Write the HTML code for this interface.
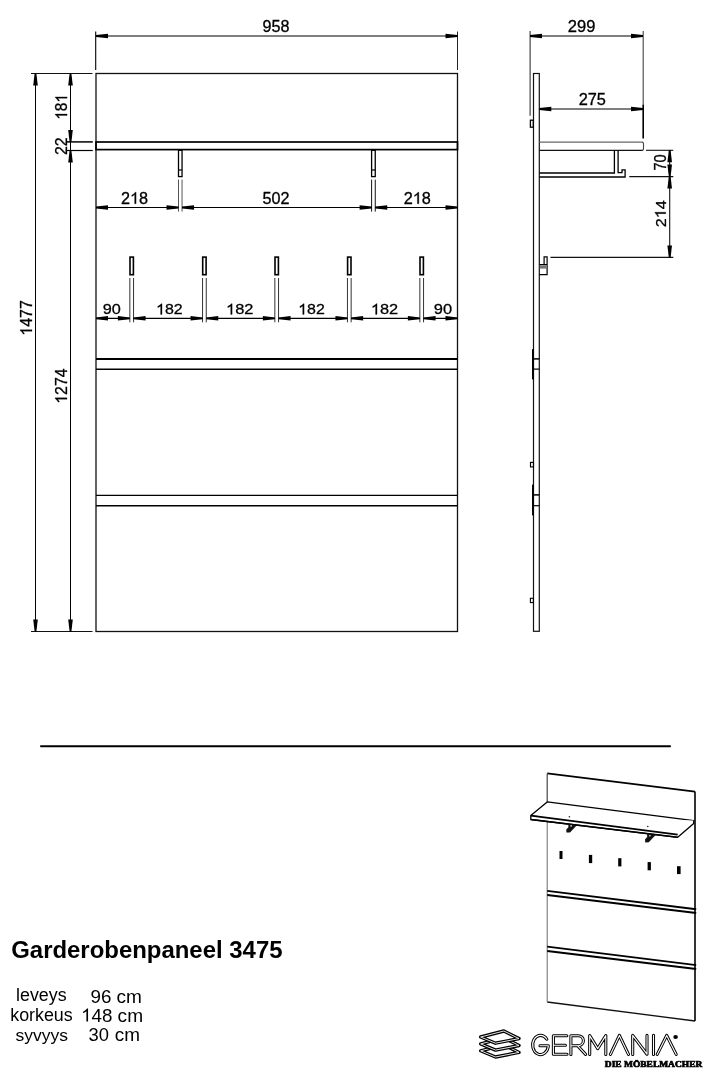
<!DOCTYPE html>
<html><head><meta charset="utf-8"><title>Garderobenpaneel 3475</title>
<style>
html,body{margin:0;padding:0;background:#fff;}
body{width:709px;height:1073px;overflow:hidden;}
svg{display:block;font-family:"Liberation Sans",sans-serif;filter:grayscale(1);}
</style></head><body>
<svg width="709" height="1073" viewBox="0 0 709 1073">
<rect width="709" height="1073" fill="#fff"/>
<rect x="96" y="73.5" width="361.5" height="558.0" fill="none" stroke="#111" stroke-width="1.3"/>
<rect x="96" y="142" width="361.5" height="7.6" fill="none" stroke="#000" stroke-width="1.7"/>
<rect x="178.5" y="150.3" width="3.55" height="26.3" fill="none" stroke="#000" stroke-width="1.3"/>
<line x1="178.5" y1="170.0" x2="182.05" y2="170.0" stroke="#000" stroke-width="1.2"/>
<line x1="178.5" y1="179.6" x2="178.5" y2="211.6" stroke="#555" stroke-width="1.0"/>
<line x1="182.05" y1="179.6" x2="182.05" y2="211.6" stroke="#555" stroke-width="1.0"/>
<rect x="371.6" y="150.3" width="3.65" height="26.3" fill="none" stroke="#000" stroke-width="1.3"/>
<line x1="371.6" y1="170.0" x2="375.25" y2="170.0" stroke="#000" stroke-width="1.2"/>
<line x1="371.6" y1="179.6" x2="371.6" y2="211.6" stroke="#111" stroke-width="1.0"/>
<line x1="375.25" y1="179.6" x2="375.25" y2="211.6" stroke="#111" stroke-width="1.0"/>
<line x1="96" y1="207.5" x2="178.5" y2="207.5" stroke="#000" stroke-width="1"/>
<polygon points="96.00,206.60 108.00,205.20 108.00,209.80 96.00,208.40" fill="#000"/>
<polygon points="178.50,206.60 166.50,205.20 166.50,209.80 178.50,208.40" fill="#000"/>
<line x1="182.05" y1="207.5" x2="371.6" y2="207.5" stroke="#000" stroke-width="1"/>
<polygon points="182.05,206.60 194.05,205.20 194.05,209.80 182.05,208.40" fill="#000"/>
<polygon points="371.60,206.60 359.60,205.20 359.60,209.80 371.60,208.40" fill="#000"/>
<line x1="375.25" y1="207.5" x2="457.5" y2="207.5" stroke="#000" stroke-width="1"/>
<polygon points="375.25,206.60 387.25,205.20 387.25,209.80 375.25,208.40" fill="#000"/>
<polygon points="457.50,206.60 445.50,205.20 445.50,209.80 457.50,208.40" fill="#000"/>
<g transform="translate(120.99,203.75) scale(1.0159,1.0313)"><text x="0.00" font-size="16" font-family="Liberation Sans" font-weight="normal" stroke="#000" stroke-width="0.3">2</text><path d="M14.86,0.00L13.46,0.00L13.46,-8.88C12.96,-8.40 12.30,-7.95 11.49,-7.50C11.17,-7.31 10.90,-7.20 10.64,-7.09L10.64,-8.45C11.54,-8.86 12.38,-9.41 13.02,-10.05C13.50,-10.53 13.82,-10.94 13.98,-11.20L14.86,-11.20Z" fill="#000" stroke="#000" stroke-width="0.3"/><text x="17.79" font-size="16" font-family="Liberation Sans" font-weight="normal" stroke="#000" stroke-width="0.3">8</text></g>
<g transform="translate(262.55,203.75) scale(1.0100,1.0342)"><text font-size="16" font-family="Liberation Sans" font-weight="normal" stroke="#000" stroke-width="0.3">502</text></g>
<g transform="translate(403.68,203.75) scale(1.0198,1.0313)"><text x="0.00" font-size="16" font-family="Liberation Sans" font-weight="normal" stroke="#000" stroke-width="0.3">2</text><path d="M14.86,0.00L13.46,0.00L13.46,-8.88C12.96,-8.40 12.30,-7.95 11.49,-7.50C11.17,-7.31 10.90,-7.20 10.64,-7.09L10.64,-8.45C11.54,-8.86 12.38,-9.41 13.02,-10.05C13.50,-10.53 13.82,-10.94 13.98,-11.20L14.86,-11.20Z" fill="#000" stroke="#000" stroke-width="0.3"/><text x="17.79" font-size="16" font-family="Liberation Sans" font-weight="normal" stroke="#000" stroke-width="0.3">8</text></g>
<rect x="130.00" y="257.1" width="3.4" height="17.6" fill="none" stroke="#000" stroke-width="1.6"/>
<line x1="129.85" y1="278" x2="129.85" y2="322.3" stroke="#333" stroke-width="1.0"/>
<line x1="133.54999999999998" y1="278" x2="133.54999999999998" y2="322.3" stroke="#333" stroke-width="1.0"/>
<rect x="202.70" y="257.1" width="3.4" height="17.6" fill="none" stroke="#000" stroke-width="1.6"/>
<line x1="202.55" y1="278" x2="202.55" y2="322.3" stroke="#333" stroke-width="1.0"/>
<line x1="206.25" y1="278" x2="206.25" y2="322.3" stroke="#333" stroke-width="1.0"/>
<rect x="275.00" y="257.1" width="3.4" height="17.6" fill="none" stroke="#000" stroke-width="1.6"/>
<line x1="274.84999999999997" y1="278" x2="274.84999999999997" y2="322.3" stroke="#333" stroke-width="1.0"/>
<line x1="278.55" y1="278" x2="278.55" y2="322.3" stroke="#333" stroke-width="1.0"/>
<rect x="347.60" y="257.1" width="3.4" height="17.6" fill="none" stroke="#000" stroke-width="1.6"/>
<line x1="347.45" y1="278" x2="347.45" y2="322.3" stroke="#333" stroke-width="1.0"/>
<line x1="351.15000000000003" y1="278" x2="351.15000000000003" y2="322.3" stroke="#333" stroke-width="1.0"/>
<rect x="420.00" y="257.1" width="3.4" height="17.6" fill="none" stroke="#000" stroke-width="1.6"/>
<line x1="419.84999999999997" y1="278" x2="419.84999999999997" y2="322.3" stroke="#333" stroke-width="1.0"/>
<line x1="423.55" y1="278" x2="423.55" y2="322.3" stroke="#333" stroke-width="1.0"/>
<line x1="96" y1="318.3" x2="129.85" y2="318.3" stroke="#000" stroke-width="1.2"/>
<polygon points="96.00,317.40 108.00,316.00 108.00,320.60 96.00,319.20" fill="#000"/>
<polygon points="129.85,317.40 117.85,316.00 117.85,320.60 129.85,319.20" fill="#000"/>
<line x1="133.54999999999998" y1="318.3" x2="202.55" y2="318.3" stroke="#000" stroke-width="1.2"/>
<polygon points="133.55,317.40 145.55,316.00 145.55,320.60 133.55,319.20" fill="#000"/>
<polygon points="202.55,317.40 190.55,316.00 190.55,320.60 202.55,319.20" fill="#000"/>
<line x1="206.25" y1="318.3" x2="274.84999999999997" y2="318.3" stroke="#000" stroke-width="1.2"/>
<polygon points="206.25,317.40 218.25,316.00 218.25,320.60 206.25,319.20" fill="#000"/>
<polygon points="274.85,317.40 262.85,316.00 262.85,320.60 274.85,319.20" fill="#000"/>
<line x1="278.55" y1="318.3" x2="347.45" y2="318.3" stroke="#000" stroke-width="1.2"/>
<polygon points="278.55,317.40 290.55,316.00 290.55,320.60 278.55,319.20" fill="#000"/>
<polygon points="347.45,317.40 335.45,316.00 335.45,320.60 347.45,319.20" fill="#000"/>
<line x1="351.15000000000003" y1="318.3" x2="419.84999999999997" y2="318.3" stroke="#000" stroke-width="1.2"/>
<polygon points="351.15,317.40 363.15,316.00 363.15,320.60 351.15,319.20" fill="#000"/>
<polygon points="419.85,317.40 407.85,316.00 407.85,320.60 419.85,319.20" fill="#000"/>
<line x1="423.55" y1="318.3" x2="457.5" y2="318.3" stroke="#000" stroke-width="1.2"/>
<polygon points="423.55,317.40 435.55,316.00 435.55,320.60 423.55,319.20" fill="#000"/>
<polygon points="457.50,317.40 445.50,316.00 445.50,320.60 457.50,319.20" fill="#000"/>
<g transform="translate(102.83,314.40) scale(1.0173,0.9581)"><text font-size="16" font-family="Liberation Sans" font-weight="normal" stroke="#000" stroke-width="0.3">90</text></g>
<g transform="translate(433.73,314.40) scale(1.0295,0.9581)"><text font-size="16" font-family="Liberation Sans" font-weight="normal" stroke="#000" stroke-width="0.3">90</text></g>
<g transform="translate(156.06,314.40) scale(0.9982,0.9554)"><path d="M5.96,0.00L4.56,0.00L4.56,-8.88C4.06,-8.40 3.41,-7.95 2.59,-7.50C2.27,-7.31 2.00,-7.20 1.74,-7.09L1.74,-8.45C2.64,-8.86 3.49,-9.41 4.13,-10.05C4.61,-10.53 4.93,-10.94 5.09,-11.20L5.96,-11.20Z" fill="#000" stroke="#000" stroke-width="0.3"/><text x="8.90" font-size="16" font-family="Liberation Sans" font-weight="normal" stroke="#000" stroke-width="0.3">82</text></g>
<g transform="translate(226.01,314.40) scale(1.0272,0.9554)"><path d="M5.96,0.00L4.56,0.00L4.56,-8.88C4.06,-8.40 3.41,-7.95 2.59,-7.50C2.27,-7.31 2.00,-7.20 1.74,-7.09L1.74,-8.45C2.64,-8.86 3.49,-9.41 4.13,-10.05C4.61,-10.53 4.93,-10.94 5.09,-11.20L5.96,-11.20Z" fill="#000" stroke="#000" stroke-width="0.3"/><text x="8.90" font-size="16" font-family="Liberation Sans" font-weight="normal" stroke="#000" stroke-width="0.3">82</text></g>
<g transform="translate(298.16,314.40) scale(0.9982,0.9554)"><path d="M5.96,0.00L4.56,0.00L4.56,-8.88C4.06,-8.40 3.41,-7.95 2.59,-7.50C2.27,-7.31 2.00,-7.20 1.74,-7.09L1.74,-8.45C2.64,-8.86 3.49,-9.41 4.13,-10.05C4.61,-10.53 4.93,-10.94 5.09,-11.20L5.96,-11.20Z" fill="#000" stroke="#000" stroke-width="0.3"/><text x="8.90" font-size="16" font-family="Liberation Sans" font-weight="normal" stroke="#000" stroke-width="0.3">82</text></g>
<g transform="translate(370.92,314.40) scale(1.0230,0.9554)"><path d="M5.96,0.00L4.56,0.00L4.56,-8.88C4.06,-8.40 3.41,-7.95 2.59,-7.50C2.27,-7.31 2.00,-7.20 1.74,-7.09L1.74,-8.45C2.64,-8.86 3.49,-9.41 4.13,-10.05C4.61,-10.53 4.93,-10.94 5.09,-11.20L5.96,-11.20Z" fill="#000" stroke="#000" stroke-width="0.3"/><text x="8.90" font-size="16" font-family="Liberation Sans" font-weight="normal" stroke="#000" stroke-width="0.3">82</text></g>
<line x1="96" y1="359.0" x2="457.5" y2="359.0" stroke="#000" stroke-width="2.0"/>
<line x1="96" y1="369.3" x2="457.5" y2="369.3" stroke="#000" stroke-width="1.5"/>
<line x1="96" y1="495.45" x2="457.5" y2="495.45" stroke="#000" stroke-width="1.3"/>
<line x1="96" y1="505.7" x2="457.5" y2="505.7" stroke="#000" stroke-width="1.5"/>
<line x1="95.7" y1="31.5" x2="95.7" y2="70" stroke="#000" stroke-width="1.1"/>
<line x1="457.5" y1="31.5" x2="457.5" y2="70" stroke="#222" stroke-width="1.0"/>
<line x1="96" y1="36" x2="457.5" y2="36" stroke="#000" stroke-width="1.2"/>
<polygon points="96.00,35.10 108.00,33.70 108.00,38.30 96.00,36.90" fill="#000"/>
<polygon points="457.50,35.10 445.50,33.70 445.50,38.30 457.50,36.90" fill="#000"/>
<g transform="translate(262.59,31.75) scale(1.0100,1.0163)"><text font-size="16" font-family="Liberation Sans" font-weight="normal" stroke="#000" stroke-width="0.3">958</text></g>
<line x1="31" y1="73.5" x2="92.5" y2="73.5" stroke="#111" stroke-width="1.1"/>
<line x1="31" y1="631.5" x2="92.5" y2="631.5" stroke="#111" stroke-width="1.1"/>
<line x1="66.5" y1="141.9" x2="92.8" y2="141.9" stroke="#111" stroke-width="1.6"/>
<line x1="66.5" y1="150.5" x2="92.8" y2="150.5" stroke="#000" stroke-width="1.2"/>
<line x1="35.5" y1="73.5" x2="35.5" y2="631.5" stroke="#000" stroke-width="1.0"/>
<polygon points="34.60,73.50 33.20,85.50 37.80,85.50 36.40,73.50" fill="#000"/>
<polygon points="34.60,631.50 33.20,619.50 37.80,619.50 36.40,631.50" fill="#000"/>
<line x1="70.5" y1="73.5" x2="70.5" y2="631.5" stroke="#000" stroke-width="1.0"/>
<polygon points="69.60,73.50 68.20,85.50 72.80,85.50 71.40,73.50" fill="#000"/>
<polygon points="69.60,141.90 68.20,129.90 72.80,129.90 71.40,141.90" fill="#000"/>
<polygon points="69.60,150.50 68.20,162.50 72.80,162.50 71.40,150.50" fill="#000"/>
<polygon points="69.60,631.50 68.20,619.50 72.80,619.50 71.40,631.50" fill="#000"/>
<g transform="translate(32.00,335.75) rotate(-90) scale(1.0018,1.0536)"><path d="M5.96,0.00L4.56,0.00L4.56,-8.88C4.06,-8.40 3.41,-7.95 2.59,-7.50C2.27,-7.31 2.00,-7.20 1.74,-7.09L1.74,-8.45C2.64,-8.86 3.49,-9.41 4.13,-10.05C4.61,-10.53 4.93,-10.94 5.09,-11.20L5.96,-11.20Z" fill="#000" stroke="#000" stroke-width="0.3"/><text x="8.90" font-size="16" font-family="Liberation Sans" font-weight="normal" stroke="#000" stroke-width="0.3">477</text></g>
<g transform="translate(67.10,119.78) rotate(-90) scale(0.9633,1.0536)"><path d="M5.96,0.00L4.56,0.00L4.56,-8.88C4.06,-8.40 3.41,-7.95 2.59,-7.50C2.27,-7.31 2.00,-7.20 1.74,-7.09L1.74,-8.45C2.64,-8.86 3.49,-9.41 4.13,-10.05C4.61,-10.53 4.93,-10.94 5.09,-11.20L5.96,-11.20Z" fill="#000" stroke="#000" stroke-width="0.3"/><text x="8.90" font-size="16" font-family="Liberation Sans" font-weight="normal" stroke="#000" stroke-width="0.3">8</text><path d="M23.75,0.00L22.35,0.00L22.35,-8.88C21.86,-8.40 21.20,-7.95 20.38,-7.50C20.06,-7.31 19.79,-7.20 19.54,-7.09L19.54,-8.45C20.43,-8.86 21.28,-9.41 21.92,-10.05C22.40,-10.53 22.72,-10.94 22.88,-11.20L23.75,-11.20Z" fill="#000" stroke="#000" stroke-width="0.3"/></g>
<g transform="translate(66.75,155.10) rotate(-90) scale(1.0005,1.0253)"><text font-size="16" font-family="Liberation Sans" font-weight="normal" stroke="#000" stroke-width="0.3">22</text></g>
<g transform="translate(67.00,403.73) rotate(-90) scale(0.9917,1.0536)"><path d="M5.96,0.00L4.56,0.00L4.56,-8.88C4.06,-8.40 3.41,-7.95 2.59,-7.50C2.27,-7.31 2.00,-7.20 1.74,-7.09L1.74,-8.45C2.64,-8.86 3.49,-9.41 4.13,-10.05C4.61,-10.53 4.93,-10.94 5.09,-11.20L5.96,-11.20Z" fill="#000" stroke="#000" stroke-width="0.3"/><text x="8.90" font-size="16" font-family="Liberation Sans" font-weight="normal" stroke="#000" stroke-width="0.3">274</text></g>
<rect x="533.5" y="73.5" width="5.7999999999999545" height="557.8" fill="none" stroke="#111" stroke-width="1.2"/>
<line x1="530.1" y1="31" x2="530.1" y2="115.8" stroke="#222" stroke-width="1.0"/>
<line x1="643.2" y1="31" x2="643.2" y2="105" stroke="#444" stroke-width="1.1"/>
<line x1="643.2" y1="104.8" x2="643.2" y2="138.6" stroke="#000" stroke-width="1.6"/>
<line x1="530" y1="36" x2="643" y2="36" stroke="#000" stroke-width="1.2"/>
<polygon points="530.00,35.10 542.00,33.70 542.00,38.30 530.00,36.90" fill="#000"/>
<polygon points="643.00,35.10 631.00,33.70 631.00,38.30 643.00,36.90" fill="#000"/>
<g transform="translate(567.77,31.95) scale(1.0344,1.0253)"><text font-size="16" font-family="Liberation Sans" font-weight="normal" stroke="#000" stroke-width="0.3">299</text></g>
<line x1="539.3" y1="109.0" x2="643" y2="109.0" stroke="#000" stroke-width="1.2"/>
<polygon points="539.30,108.10 551.30,106.70 551.30,111.30 539.30,109.90" fill="#000"/>
<polygon points="643.00,108.10 631.00,106.70 631.00,111.30 643.00,109.90" fill="#000"/>
<g transform="translate(578.68,104.95) scale(1.0232,1.0163)"><text font-size="16" font-family="Liberation Sans" font-weight="normal" stroke="#000" stroke-width="0.3">275</text></g>
<rect x="530.4" y="120.2" width="2.9" height="7.0" fill="none" stroke="#000" stroke-width="1.3"/>
<line x1="539.3" y1="142.1" x2="642" y2="142.1" stroke="#666" stroke-width="1.2"/>
<line x1="539.3" y1="150.4" x2="643" y2="150.4" stroke="#111" stroke-width="1.3"/>
<path d="M642,142.1 Q643.5,142.1 643.5,144 V149 Q643.5,150.4 642,150.4" fill="none" stroke="#444" stroke-width="1.1"/>
<path d="M539.3,173 H614.4 V150.4 M618.1,150.4 V172.6 H622 V169.9 H625.1 V177 H539.3" fill="none" stroke="#000" stroke-width="1.3"/>
<line x1="646" y1="150.3" x2="673.3" y2="150.3" stroke="#111" stroke-width="1.1"/>
<line x1="629.3" y1="176.6" x2="673.3" y2="176.6" stroke="#111" stroke-width="1.1"/>
<line x1="550.5" y1="257.4" x2="673.3" y2="257.4" stroke="#111" stroke-width="1.1"/>
<line x1="669.7" y1="150.3" x2="669.7" y2="257.4" stroke="#111" stroke-width="1.1"/>
<polygon points="668.80,150.30 667.40,162.30 672.00,162.30 670.60,150.30" fill="#000"/>
<polygon points="668.80,176.60 667.40,164.60 672.00,164.60 670.60,176.60" fill="#000"/>
<polygon points="668.80,176.60 667.40,188.60 672.00,188.60 670.60,176.60" fill="#000"/>
<polygon points="668.80,257.40 667.40,245.40 672.00,245.40 670.60,257.40" fill="#000"/>
<g transform="translate(665.70,170.54) rotate(-90) scale(0.9112,0.9939)"><text font-size="16" font-family="Liberation Sans" font-weight="normal" stroke="#000" stroke-width="0.3">70</text></g>
<g transform="translate(665.80,227.31) rotate(-90) scale(1.0148,0.9732)"><text x="0.00" font-size="16" font-family="Liberation Sans" font-weight="normal" stroke="#000" stroke-width="0.3">2</text><path d="M14.86,0.00L13.46,0.00L13.46,-8.88C12.96,-8.40 12.30,-7.95 11.49,-7.50C11.17,-7.31 10.90,-7.20 10.64,-7.09L10.64,-8.45C11.54,-8.86 12.38,-9.41 13.02,-10.05C13.50,-10.53 13.82,-10.94 13.98,-11.20L14.86,-11.20Z" fill="#000" stroke="#000" stroke-width="0.3"/><text x="17.79" font-size="16" font-family="Liberation Sans" font-weight="normal" stroke="#000" stroke-width="0.3">4</text></g>
<path d="M539.3,264.5 H547.1 V274.7 H539.3 M544.1,264.5 V256.9 H547.1 V264.5" fill="none" stroke="#000" stroke-width="1.2"/>
<rect x="539.8" y="265.2" width="6.6" height="3.4" fill="#777"/>
<rect x="532.0" y="349" width="1.6" height="30.399999999999977" fill="#000" rx="0.6"/>
<line x1="533.5" y1="358.9" x2="539.3" y2="358.9" stroke="#000" stroke-width="1.5"/>
<line x1="533.5" y1="369.1" x2="539.3" y2="369.1" stroke="#000" stroke-width="1.2"/>
<rect x="532.0" y="484.6" width="1.6" height="30.799999999999955" fill="#000" rx="0.6"/>
<line x1="533.5" y1="494.9" x2="539.3" y2="494.9" stroke="#000" stroke-width="1.5"/>
<line x1="533.5" y1="505.7" x2="539.3" y2="505.7" stroke="#000" stroke-width="1.2"/>
<rect x="530.5" y="462.4" width="3" height="4.5" fill="none" stroke="#000" stroke-width="1.15"/>
<rect x="530.4" y="598.3" width="3" height="4.3" fill="none" stroke="#000" stroke-width="1.1"/>
<line x1="41" y1="746.3" x2="670" y2="746.3" stroke="#000" stroke-width="2.0" stroke-linecap="round"/>
<g transform="translate(11.22,958.40) scale(0.9976,0.9828)"><text font-size="24" font-family="Liberation Sans" font-weight="bold" >Garderobenpaneel 3475</text></g>
<g transform="translate(16.00,1000.95) scale(0.9927,1.0171)"><text font-size="18" font-family="Liberation Sans" font-weight="normal" >leveys</text></g>
<g transform="translate(10.20,1020.85) scale(0.9924,0.9862)"><text font-size="18" font-family="Liberation Sans" font-weight="normal" >korkeus</text></g>
<g transform="translate(15.61,1040.85) scale(0.9726,0.9466)"><text font-size="18" font-family="Liberation Sans" font-weight="normal" >syvyys</text></g>
<g transform="translate(90.61,1003.00) scale(0.9923,0.9991)"><text font-size="19" font-family="Liberation Sans" font-weight="normal" >96</text></g>
<g transform="translate(116.50,1002.80) scale(1.0011,0.9783)"><text font-size="19" font-family="Liberation Sans" font-weight="normal" >cm</text></g>
<g transform="translate(81.05,1021.50) scale(0.9894,0.9774)"><path d="M7.08,0.00L5.41,0.00L5.41,-10.55C4.83,-9.97 4.05,-9.44 3.08,-8.91C2.70,-8.68 2.38,-8.55 2.07,-8.42L2.07,-10.03C3.14,-10.53 4.14,-11.17 4.90,-11.93C5.47,-12.50 5.85,-13.00 6.04,-13.30L7.08,-13.30Z" fill="#000" /><text x="10.56" font-size="19" font-family="Liberation Sans" font-weight="normal" >48</text></g>
<g transform="translate(117.60,1021.60) scale(1.0054,0.9587)"><text font-size="19" font-family="Liberation Sans" font-weight="normal" >cm</text></g>
<g transform="translate(88.50,1040.60) scale(0.9662,0.9501)"><text font-size="19" font-family="Liberation Sans" font-weight="normal" >30</text></g>
<g transform="translate(114.80,1040.60) scale(0.9968,0.9783)"><text font-size="19" font-family="Liberation Sans" font-weight="normal" >cm</text></g>
<path d="M547.2,1002 L695,1021" fill="none" stroke="#111" stroke-width="1.3"/>
<path d="M547.2,773.4 L695,791.6" fill="none" stroke="#000" stroke-width="1.6"/>
<path d="M547.2,802 V773.4" fill="none" stroke="#444" stroke-width="1.2"/>
<path d="M547.2,1002 V802" fill="none" stroke="#777" stroke-width="1.1"/>
<path d="M695,791.6 V1021" fill="none" stroke="#000" stroke-width="1.6"/>
<line x1="547.2" y1="890.8" x2="696.2" y2="909.25" stroke="#000" stroke-width="1.8"/>
<line x1="547.2" y1="894.9" x2="696.2" y2="913.05" stroke="#000" stroke-width="2.0"/>
<line x1="547.2" y1="946.6" x2="696.2" y2="965.0500000000001" stroke="#000" stroke-width="1.8"/>
<line x1="547.2" y1="950.9" x2="696.2" y2="969.05" stroke="#000" stroke-width="2.0"/>
<path d="M547.2,801.9 L693.7,820.6 L677.7,834.6 L530.8,815.6 Z" fill="#fff" stroke="#000" stroke-width="1.3" stroke-linejoin="round"/>
<path d="M530.8,815.6 V819.5 L677.7,837.3 L693.7,823.4 V820.6" fill="#fff" stroke="#000" stroke-width="1.3" stroke-linejoin="round"/>
<path d="M530.8,815.6 L677.7,834.6" stroke="#000" stroke-width="1.7"/>
<path d="M530.8,819.5 L677.7,837.3" stroke="#000" stroke-width="1.5"/>
<path transform="translate(0,0)" d="M568.3,823.8 L576.8,825.3 L570,832.4 L566.4,832.6 L566.3,829.4 L568.4,827.2 Z" fill="#111"/>
<circle cx="571.1" cy="825.9" r="0.8" fill="#fff"/>
<path transform="translate(78.8,9.8)" d="M568.3,823.8 L576.8,825.3 L570,832.4 L566.4,832.6 L566.3,829.4 L568.4,827.2 Z" fill="#111"/>
<circle cx="649.9" cy="835.6999999999999" r="0.8" fill="#fff"/>
<circle cx="569.4" cy="816.7" r="0.8" fill="#222"/><circle cx="647.8" cy="826.5" r="0.8" fill="#222"/>
<rect x="559.5" y="851" width="3.0" height="8" fill="#000"/>
<rect x="588.9" y="854.9" width="3.300000000000068" height="8.200000000000045" fill="#000"/>
<rect x="618.2" y="858.2" width="3.199999999999932" height="8.199999999999932" fill="#000"/>
<rect x="647.6" y="862.1" width="3.2999999999999545" height="8.199999999999932" fill="#000"/>
<rect x="677" y="866.2" width="3.6000000000000227" height="7.899999999999977" fill="#000"/>
<path d="M480.7,1050.8 L503.9,1044.8 L519,1052.4 L495.5,1057.0 Z" fill="#fff" stroke="#000" stroke-width="3.4" stroke-linejoin="round"/><path d="M480.7,1050.8 L503.9,1044.8 L519,1052.4 L495.5,1057.0 Z" fill="none" stroke="#fff" stroke-width="0.9" stroke-linejoin="round"/><path d="M480.7,1043.9 L503.9,1037.9 L519,1045.5 L495.5,1050.1 Z" fill="#fff" stroke="#000" stroke-width="3.4" stroke-linejoin="round"/><path d="M480.7,1043.9 L503.9,1037.9 L519,1045.5 L495.5,1050.1 Z" fill="none" stroke="#fff" stroke-width="0.9" stroke-linejoin="round"/><path d="M480.7,1037.0 L503.9,1031.0 L519,1038.6 L495.5,1043.2 Z" fill="#fff" stroke="#000" stroke-width="3.4" stroke-linejoin="round"/><path d="M480.7,1037.0 L503.9,1031.0 L519,1038.6 L495.5,1043.2 Z" fill="none" stroke="#fff" stroke-width="0.9" stroke-linejoin="round"/>
<path d="M546.8,1039.2 A7.85,9.6 0 1 0 548.33,1045.7 H540.0 M566.8,1035.7 H553.4 V1054.2 H567 M553.4,1045.2 H565.4 M570.9,1054.4 V1035.7 H578.4 A5,5 0 0 1 578.4,1045.7 H570.9 M577.6,1045.7 L585.6,1054.4 M589.7,1054.4 V1035.6 L597.7,1048.6 L605.8,1035.6 V1054.4 M610.4,1054.4 L619.4,1035.4 L628.5,1054.4 M632.7,1054.4 V1035.4 L647,1054.2 V1035.4 M653.5,1035.4 V1054.4 M657.2,1054.4 L666.7,1035.4 L676.2,1054.4" fill="none" stroke="#000" stroke-width="3.1" stroke-linejoin="round" stroke-linecap="round"/>
<path d="M546.8,1039.2 A7.85,9.6 0 1 0 548.33,1045.7 H540.0 M566.8,1035.7 H553.4 V1054.2 H567 M553.4,1045.2 H565.4 M570.9,1054.4 V1035.7 H578.4 A5,5 0 0 1 578.4,1045.7 H570.9 M577.6,1045.7 L585.6,1054.4 M589.7,1054.4 V1035.6 L597.7,1048.6 L605.8,1035.6 V1054.4 M610.4,1054.4 L619.4,1035.4 L628.5,1054.4 M632.7,1054.4 V1035.4 L647,1054.2 V1035.4 M653.5,1035.4 V1054.4 M657.2,1054.4 L666.7,1035.4 L676.2,1054.4" fill="none" stroke="#fff" stroke-width="1.1" stroke-linejoin="round" stroke-linecap="round"/>
<ellipse cx="675.6" cy="1037" rx="2.3" ry="1.9" fill="#000"/>
<g transform="translate(604.83,1067.00) scale(1.0510,0.8013)"><text font-size="9" font-family="Liberation Serif" font-weight="bold" stroke="#000" stroke-width="0.75" stroke-linejoin="round">DIE MÖBELMACHER</text></g>
</svg>
</body></html>
